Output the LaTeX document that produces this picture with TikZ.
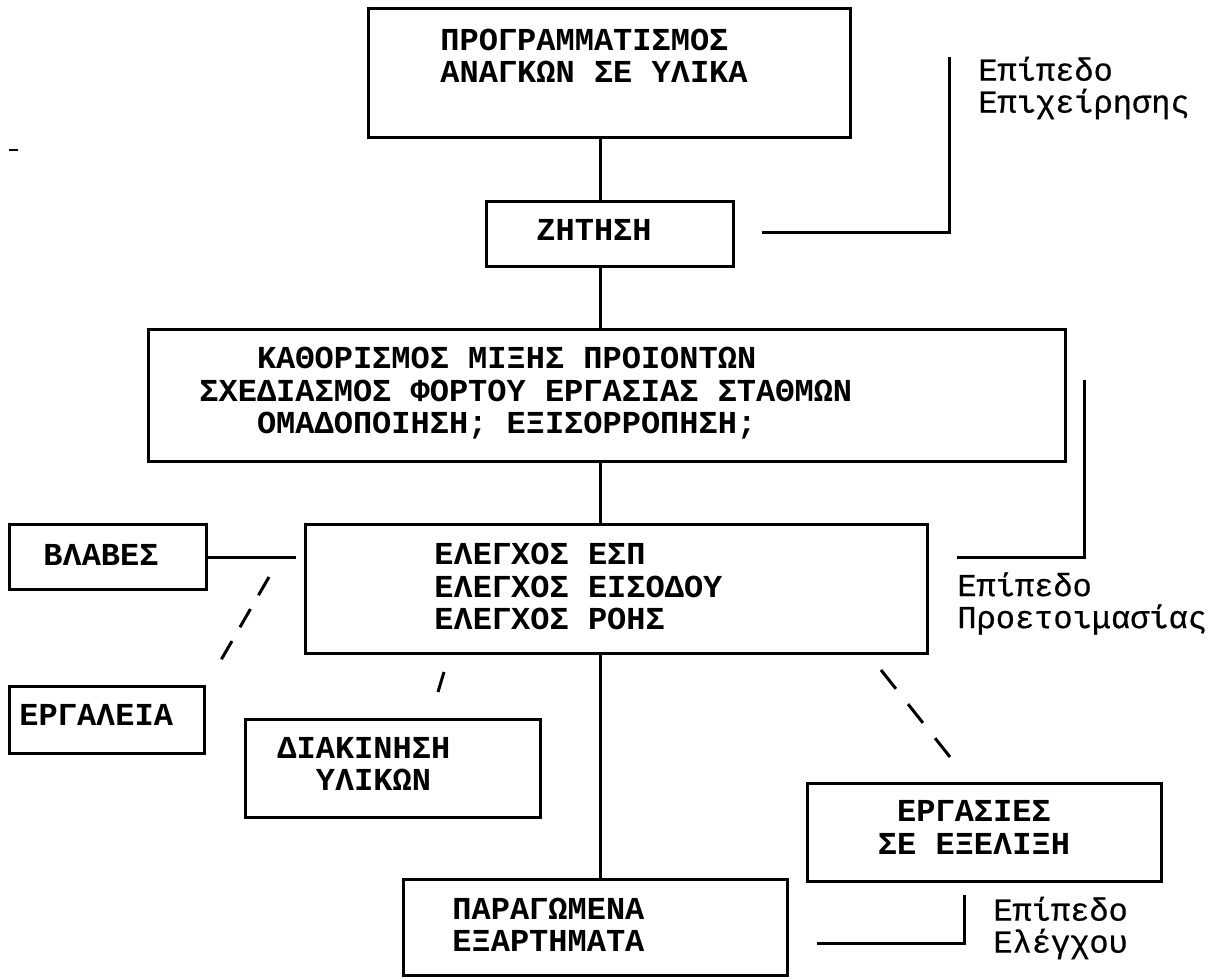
\documentclass[tikz,border=0pt]{standalone}
\usepackage{fontspec}
\setmainfont{Liberation Mono}
\newfontfamily\ebenefont[FakeBold=0.6]{Liberation Mono}
\usetikzlibrary{positioning}

\begin{document}
\begin{tikzpicture}[x=0.5pt, y=-0.5pt,
  kasten/.style={draw, line width=1.5pt, inner sep=0pt},
  schrift/.style={font=\bfseries\fontsize{16}{16.25}\selectfont, align=left, inner sep=0pt, anchor=west},
  ebene/.style={font=\ebenefont\fontsize{16}{16}\selectfont, align=left, inner sep=0pt, anchor=west},
  linie/.style={line width=1.5pt},
  strich/.style={line width=1.5pt, dash pattern=on 10.5pt off 8pt}]
\useasboundingbox (0,0) rectangle (1222,978);

\node[kasten, minimum width=241pt, minimum height=64.5pt] (prog) at (609,73.5) {}; %Programm
\node[schrift] (prog-t) at (440,56) {ΠΡΟΓΡΑΜΜΑΤΙΣΜΟΣ\\ΑΝΑΓΚΩΝ ΣΕ ΥΛΙΚΑ};
\node[kasten, minimum width=123.5pt, minimum height=32.5pt] (zitisi) at (609.5,234.5) {}; %Nachfrage
\node[schrift] (zitisi-t) at (536,230) {ΖΗΤΗΣΗ};
\node[kasten, minimum width=458.5pt, minimum height=66pt] (kath) at (606.5,396) {}; %Mix
\node[schrift] (kath-t) at (199,393.5) {\phantom{ΣΧΕ}ΚΑΘΟΡΙΣΜΟΣ ΜΙΞΗΣ ΠΡΟΙΟΝΤΩΝ\\ΣΧΕΔΙΑΣΜΟΣ ΦΟΡΤΟΥ ΕΡΓΑΣΙΑΣ ΣΤΑΘΜΩΝ\\\phantom{ΣΧΕ}ΟΜΑΔΟΠΟΙΗΣΗ; ΕΞΙΣΟΡΡΟΠΗΣΗ;};
\node[kasten, minimum width=311pt, minimum height=64.5pt] (elegx) at (616,589.5) {}; %Kontrolle
\node[schrift] (elegx-t) at (434,586.5) {ΕΛΕΓΧΟΣ ΕΣΠ\\ΕΛΕΓΧΟΣ ΕΙΣΟΔΟΥ\\ΕΛΕΓΧΟΣ ΡΟΗΣ};
\node[kasten, minimum width=98.5pt, minimum height=32.5pt] (vlaves) at (107.5,557.5) {}; %Stoerungen
\node[schrift] (vlaves-t) at (43,555) {ΒΛΑΒΕΣ};
\node[kasten, minimum width=97.5pt, minimum height=33pt] (ergal) at (106.5,720) {}; %Werkzeuge
\node[schrift] (ergal-t) at (19,715) {ΕΡΓΑΛΕΙΑ};
\node[kasten, minimum width=147.5pt, minimum height=49pt] (diak) at (392.5,768) {}; %Material
\node[schrift] (diak-t) at (277,764) {ΔΙΑΚΙΝΗΣΗ\\\phantom{ΔΙ}ΥΛΙΚΩΝ};
\node[kasten, minimum width=177pt, minimum height=49pt] (ergas) at (984,832) {}; %WIP
\node[schrift, align=center, anchor=center] (ergas-t) at (974,827.5) {ΕΡΓΑΣΙΕΣ\\ΣΕ ΕΞΕΛΙΞΗ};
\node[kasten, minimum width=192pt, minimum height=48pt] (parag) at (595,927) {}; %Teile
\node[schrift] (parag-t) at (452,925) {ΠΑΡΑΓΩΜΕΝΑ\\ΕΞΑΡΤΗΜΑΤΑ};

\coordinate (achse) at (600,0);
\draw[linie] (prog.south -| achse) -- (zitisi.north -| achse);
\draw[linie] (zitisi.south -| achse) -- (kath.north -| achse);
\draw[linie] (kath.south -| achse) -- (elegx.north -| achse);
\draw[linie] (elegx.south -| achse) -- (parag.north -| achse);
\coordinate (vl) at (296,557.5);
\draw[linie] (vlaves.east) -- (vl);

\coordinate (d1a) at (269,577); \coordinate (d1b) at (221,660);
\draw[strich] (d1a) -- (d1b); %zu Werkzeuge
\coordinate (d2a) at (444,672); \coordinate (d2b) at (438,692);
\draw[linie] (d2a) -- (d2b); %zu Material
\coordinate (d3a) at (881,670); \coordinate (d3b) at (950,757);
\draw[strich, dash pattern=on 12pt off 9.75pt] (d3a) -- (d3b); %zu WIP

\coordinate (b1a) at (762,233); \coordinate (b1b) at (949,233); \coordinate (b1c) at (949,57);
\draw[linie] (b1a) -- (b1b) -- (b1c);
\node[ebene] (lvl1) at (978,88) {Επίπεδο\\Επιχείρησης};
\coordinate (b2a) at (957,558); \coordinate (b2b) at (1084,558); \coordinate (b2c) at (1084,380);
\draw[linie] (b2a) -- (b2b) -- (b2c);
\node[ebene] (lvl2) at (957,603.5) {Επίπεδο\\Προετοιμασίας};
\coordinate (b3a) at (817,943); \coordinate (b3b) at (964,943); \coordinate (b3c) at (964,895);
\draw[linie] (b3a) -- (b3b) -- (b3c);
\node[ebene] (lvl3) at (993,928) {Επίπεδο\\Ελέγχου};

\draw[line width=1.2pt] (9,150) -- (18,150); %Fleck
\end{tikzpicture}
\end{document}
